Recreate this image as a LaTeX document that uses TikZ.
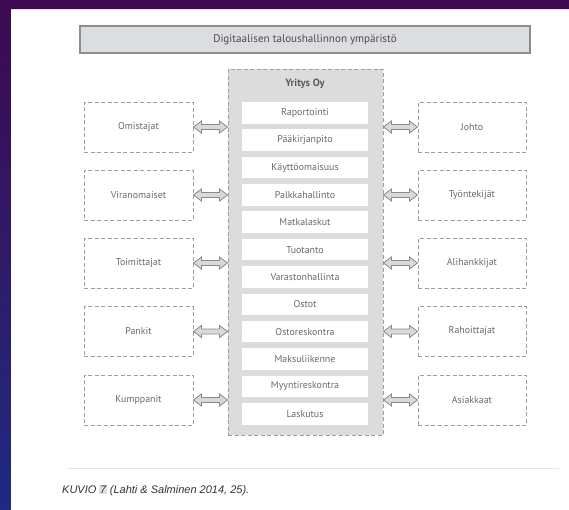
\documentclass[tikz,border=0pt]{standalone}
\usepackage{fontspec}
\setmainfont{PT Sans}
\newfontfamily\capfont{Liberation Sans}
\usetikzlibrary{calc}

\definecolor{bgtop}{HTML}{3E0A50}
\definecolor{bgbot}{HTML}{1F2A82}
\definecolor{boxtext}{HTML}{6A6A6A}
\definecolor{dashgray}{HTML}{9E9E9E}
\definecolor{corefill}{HTML}{DCDCDC}
\definecolor{titlefill}{HTML}{DCDDE0}
\definecolor{titleline}{HTML}{8E8E8E}
\definecolor{arrowline}{HTML}{8A8A8A}
\definecolor{arrowfill}{HTML}{D9D9D9}

% double-headed block arrow between two points on the same height
\newcommand\twoway[2]{%
  \draw[blockarrow] let \p1=(#1), \p2=(#2) in
    (\x1,\y1) -- (\x1+8pt,\y1+6pt) -- (\x1+8pt,\y1+2.5pt)
    -- (\x2-8pt,\y1+2.5pt) -- (\x2-8pt,\y1+6pt) -- (\x2,\y1)
    -- (\x2-8pt,\y1-6pt) -- (\x2-8pt,\y1-2.5pt)
    -- (\x1+8pt,\y1-2.5pt) -- (\x1+8pt,\y1-6pt) -- cycle;}

\tikzset{
  party/.style={draw=dashgray, line width=0.9pt, dash pattern=on 4pt off 2.5pt,
    minimum width=109pt, minimum height=50pt, inner sep=0pt,
    text=boxtext, font=\fontsize{9.9}{11}\selectfont},
  task/.style={fill=white, minimum width=126pt, minimum height=21.5pt, inner sep=0pt,
    text=boxtext, font=\fontsize{9.9}{11}\selectfont},
  blockarrow/.style={draw=arrowline, fill=arrowfill, line width=0.8pt, line join=miter},
}

\begin{document}
\begin{tikzpicture}[x=1pt,y=-1pt]
\useasboundingbox (0,0) rectangle (569,509);

% page frame and white sheet
\shade[top color=bgtop, bottom color=bgbot] (0,0) rectangle (569,509);
\fill[white] (11,9) rectangle (570,510);
\draw[magenta!20, line width=0.8pt] (11,9.4) -- (569,9.4);

% title bar
\node[draw=titleline, line width=1.4pt, fill=titlefill, minimum width=450pt,
  minimum height=27pt, inner sep=0pt, text=black!70,
  font=\fontsize{11.1}{13}\selectfont] (title) at (305,39.5)
  {Digitaalisen taloushallinnon ympäristö};

% company block
\node[draw=dashgray, line width=0.9pt, dash pattern=on 4pt off 2.5pt, fill=corefill,
  minimum width=155pt, minimum height=366pt, inner sep=0pt] (core) at (305.5,252) {};
\node[text=black!65, font=\bfseries\fontsize{10.5}{12}\selectfont] (yritys) at (305,84) {Yritys Oy};

\foreach \name [count=\i from 0] in {Raportointi, Pääkirjanpito, Käyttöomaisuus,
  Palkkahallinto, Matkalaskut, Tuotanto, Varastonhallinta, Ostot, Ostoreskontra,
  Maksuliikenne, Myyntireskontra, Laskutus}
  \node[task] (t\i) at (305,{112.8+\i*27.36}) {\name};

% stakeholders on the left
\node[party] (omi) at (138.5,127)   {Omistajat};
\node[party] (vir) at (138.5,195)   {Viranomaiset};
\node[party] (toi) at (138.5,263)   {Toimittajat};
\node[party] (pan) at (138.5,331.5) {Pankit};
\node[party] (kum) at (138.5,400)   {Kumppanit};

% stakeholders on the right
\node[party, minimum width=108pt] (joh) at (472,127)   {Johto};
\node[party, minimum width=108pt] (tyo) at (472,195)   {Työntekijät};
\node[party, minimum width=108pt] (ali) at (472,263)   {Alihankkijat};
\node[party, minimum width=108pt] (rah) at (472,331.5) {Rahoittajat};
\node[party, minimum width=108pt] (asi) at (472,400)   {Asiakkaat};

% links to the company
\foreach \side in {omi,vir,toi,pan,kum}
  \twoway{\side.east}{core.west |- \side.east};
\foreach \side in {joh,tyo,ali,rah,asi}
  \twoway{core.east |- \side.west}{\side.west};

% caption
\draw[black!10, line width=0.7pt] (67,468) -- (559,468);
\node[anchor=base west, inner sep=0pt, text=black!80,
  font=\capfont\itshape\fontsize{11}{13}\selectfont] (caption) at (62,493)
  {KUVIO {\setlength{\fboxsep}{0.6pt}\colorbox{black!12}{7}} (Lahti \& Salminen 2014, 25).};
\end{tikzpicture}
\end{document}
